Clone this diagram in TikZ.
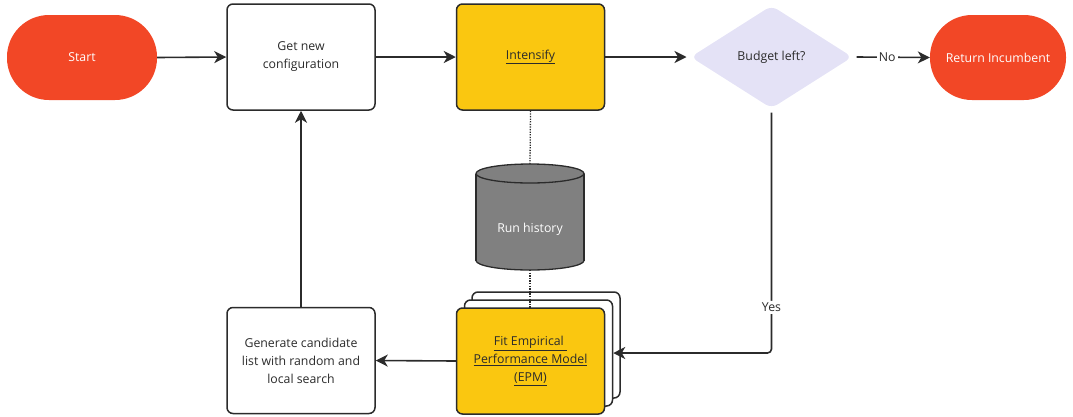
\documentclass[tikz,border=0pt]{standalone}
\usepackage{fontspec}
\setmainfont{Open Sans}
\usetikzlibrary{shapes.geometric,arrows.meta}
\definecolor{ink}{HTML}{2B2B2B}
\definecolor{termred}{HTML}{F24726}
\definecolor{procyel}{HTML}{FAC710}
\definecolor{declav}{HTML}{E4E2F6}
\definecolor{dbgray}{HTML}{808080}
\begin{document}
\begin{tikzpicture}[x=1pt,y=-1pt,
  txt/.style={font=\fontsize{12.3}{18}\selectfont, align=center, text=ink},
  term/.style={txt, fill=termred, text=white, rounded corners=42pt,
    minimum height=85pt, inner sep=0pt},
  box/.style={txt, draw=ink, line width=1.5pt, rounded corners=6pt,
    minimum width=148pt, minimum height=106pt, inner sep=0pt},
  dec/.style={txt, diamond, fill=declav, rounded corners=7pt, aspect=1.56,
    minimum width=164pt, minimum height=105pt, inner sep=0pt, outer sep=3pt},
  conn/.style={draw=ink, line width=1.6pt},
  arr/.style={conn, -{Stealth[length=12pt,width=12pt,inset=3.5pt]}},
  link/.style={draw=ink, line width=1.3pt, dash pattern=on 1.3pt off 1.3pt},
  lbl/.style={txt, fill=white, inner sep=2pt}
]
\useasboundingbox (0,0) rectangle (1073,416);

% top row
\node[term, minimum width=150pt] (start) at (82,57.5) {Start};
\node[box, fill=white] (get) at (301,57) {Get new\\configuration};
\node[box, fill=procyel] (int) at (530.5,57) {\underline{Intensify}};
\node[dec] (bud) at (771.5,57) {Budget left?};
\node[term, minimum width=136pt] (ret) at (998,57.5) {Return Incumbent};

% run history cylinder
\coordinate (rhtop) at (530,164);
\coordinate (rhbot) at (530,270);
\draw[link] (int.south) -- (rhtop);
\draw[draw=ink, line width=1.3pt, fill=dbgray] (530,260.5) ellipse (54pt and 9.5pt);
\fill[dbgray] (476,173.5) rectangle (584,260.5);
\draw[draw=ink, line width=1.3pt] (476,173.5) -- (476,260.5) (584,173.5) -- (584,260.5);
\draw[draw=ink, line width=1.3pt, fill=dbgray] (530,173.5) ellipse (54pt and 9.5pt);
\node[txt, text=white] (rh) at (530,229) {Run history};

% stacked EPM cards
\node[box, fill=white] (c3) at (546,345) {};
\node[box, fill=white] (c2) at (538.5,353) {};
\draw[link] (rhbot) -- (530,308);
\node[box, fill=procyel] (epm) at (530.5,361)
  {\underline{Fit Empirical\ }\\\underline{Performance Model}\\\underline{(EPM)}};

% candidate generation
\node[box, fill=white] (gen) at (301,360.5)
  {Generate candidate\\list with random and\\local search};

% connectors
\draw[arr] (start.east) -- (get.west);
\draw[arr] (get.east) -- (int.west);
\draw[arr] (int.east) -- (bud.west);
\draw[arr] (bud.east) -- node[lbl, pos=0.42] {No} (ret.west);
\draw[arr, rounded corners=4pt] (bud.south) |- node[lbl, pos=0.405] {Yes} (c2.east);
\draw[arr] (epm.west) -- (gen.east);
\draw[arr] (gen.north) -- (get.south);
\end{tikzpicture}
\end{document}
